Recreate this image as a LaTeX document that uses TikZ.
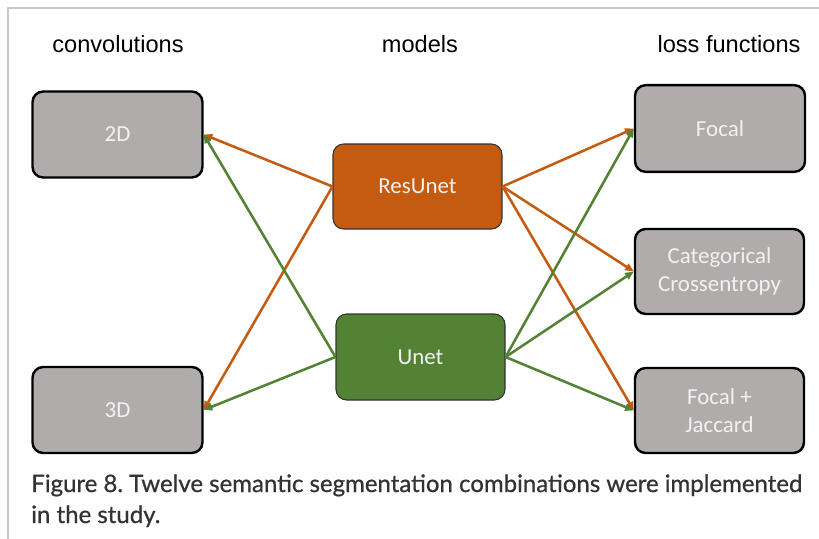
\documentclass[tikz,border=0pt]{standalone}
\usepackage{fontspec}
\setmainfont{Liberation Sans}
\newfontfamily\boxfont{Carlito}
\newfontfamily\capfont[FakeBold=0.8]{Lato}
\usetikzlibrary{arrows.meta}
\definecolor{boxgray}{HTML}{AFACAB}
\definecolor{resorange}{HTML}{C55A11}
\definecolor{unetgreen}{HTML}{548235}
\definecolor{framegray}{HTML}{C8C8C8}
\definecolor{captext}{HTML}{333333}
\definecolor{boxtext}{HTML}{F2F2F2}
\frenchspacing
\begin{document}
\begin{tikzpicture}[x=0.75pt,y=-0.75pt,
  box/.style={draw=black,line width=1.8pt,rounded corners=8pt,fill=boxgray,
    minimum width=127pt,minimum height=64pt,inner sep=0pt,align=center,
    font=\boxfont\fontsize{17.2pt}{21pt}\selectfont,text=boxtext},
  modelbox/.style={box,line width=0.8pt,draw=black!80},
  head/.style={font=\fontsize{17.7pt}{20pt}\selectfont,anchor=base},
  capline/.style={anchor=base west,inner sep=0pt,text=captext,font=\capfont\fontsize{18pt}{23.5pt}\selectfont},
  conn/.style={line width=1.9pt,-{Triangle[length=6.5pt,width=5.5pt]}}]
\useasboundingbox (0,0) rectangle (819,539);
\draw[framegray,line width=1pt] (8,539) -- (8,8) -- (819,8);
\node[head] (hconv) at (118,52) {convolutions};
\node[head] (hmod) at (420,52) {models};
\node[head] (hloss) at (729,52) {loss functions};
\node[box,minimum width=127.5pt,minimum height=64.5pt] (d2) at (117.5,134.5) {2D};
\node[box,minimum width=127.5pt,minimum height=64.5pt] (d3) at (117.5,410) {3D};
\node[modelbox,fill=resorange,minimum width=126.75pt,minimum height=63.75pt] (res) at (417.5,186.5) {ResUnet};
\node[modelbox,fill=unetgreen,minimum width=126.75pt,minimum height=64.5pt] (unet) at (420.5,357) {Unet};
\node[box,minimum width=127.5pt,minimum height=65pt] (focal) at (720,128.5) {Focal};
\node[box,minimum width=126.75pt,minimum height=63.75pt] (cat) at (719.5,271.5) {Categorical\\Crossentropy};
\node[box,minimum width=126.75pt,minimum height=63.75pt] (fj) at (719.5,410.5) {Focal +\\Jaccard};
\draw[conn,resorange] (res.west) -- (d2.east);
\draw[conn,resorange] (res.west) -- (d3.east);
\draw[conn,unetgreen] (unet.west) -- (d2.east);
\draw[conn,unetgreen] (unet.west) -- (d3.east);
\draw[conn,resorange] (res.east) -- (focal.west);
\draw[conn,resorange] (res.east) -- (cat.west);
\draw[conn,resorange] (res.east) -- (fj.west);
\draw[conn,unetgreen] (unet.east) -- (focal.west);
\draw[conn,unetgreen] (unet.east) -- (cat.west);
\draw[conn,unetgreen] (unet.east) -- (fj.west);
\node[capline] (cap1) at (31,492) {Figure 8. Twelve semantic segmentation combinations were implemented};
\node[capline] (cap2) at (31,523) {in the study.};
\end{tikzpicture}
\end{document}
